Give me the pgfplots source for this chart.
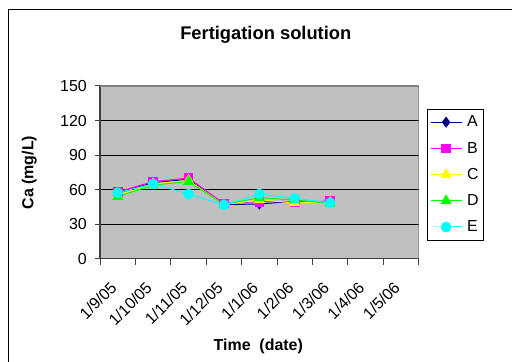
\documentclass[border=0pt]{standalone}
\usepackage{pgfplots}
\pgfplotsset{compat=1.18}
\usepackage{fontspec}
\setmainfont{Liberation Sans}
\definecolor{bgray}{HTML}{C0C0C0}
\definecolor{cA}{HTML}{000080}
\definecolor{cB}{HTML}{FF00FF}
\definecolor{cC}{HTML}{FFFF00}
\definecolor{cD}{HTML}{00FF00}
\definecolor{cE}{HTML}{00FFFF}
\begin{document}
\begin{tikzpicture}
\useasboundingbox (0,0) rectangle (512bp,362bp);
\draw[line width=1bp] (8bp,0) -- (8bp,352.7bp) -- (512bp,352.7bp);
\node[font=\bfseries\fontsize{18.4}{20}\selectfont] at (265.8bp,327bp) {Fertigation solution};
\begin{axis}[
  at={(100bp,103.3bp)}, anchor=south west,
  scale only axis, width=318.7bp, height=172.7bp,
  xmin=-0.5, xmax=8.5, ymin=0, ymax=150,
  axis lines=left, axis line style={-, draw=black!75, line width=1.2bp},
  tick align=outside,
  axis background/.style={fill=bgray},
  ytick={0,30,...,150},
  ymajorgrids, grid style={black, line width=0.8bp},
  major tick length=5bp,
  tick style={black!75, line width=1bp},
  xtick={0,...,8},
  xticklabels={1/9/05,1/10/05,1/11/05,1/12/05,1/1/06,1/2/06,1/3/06,1/4/06,1/5/06},
  xtick style={draw=none},
  extra x ticks={-0.5,0.5,...,8.5},
  extra x tick labels={},
  extra x tick style={xtick style={draw=black!75, line width=1bp}, major tick length=6bp, grid=none},
  /pgf/number format/assume math mode=true,
  tick label style={font=\fontsize{16}{18}\selectfont},
  xticklabel style={inner sep=0pt, anchor=east, yshift=-21bp, xshift=-4bp, rotate=45},
  yticklabel style={inner sep=0pt, xshift=-8bp},
  xlabel={Time\ \ (date)}, ylabel={Ca (mg/L)},
  label style={font=\bfseries\fontsize{16}{18}\selectfont},
  xlabel style={at={(axis description cs:0.4967,-0.5055)}, anchor=center},
  ylabel style={at={(axis description cs:-0.2218,0.499)}, anchor=center, rotate=0},
  legend style={at={(axis description cs:1.025,0.8686)}, anchor=north west,
    draw=black, fill=white, line width=0.8bp, font=\fontsize{16}{18}\selectfont,
    nodes={inner sep=2bp, minimum height=26.2bp}, inner xsep=3bp, inner ysep=0bp, row sep=0bp,
    /tikz/every odd column/.append style={column sep=3bp}},
  legend cell align=left,
  legend image code/.code={\draw[mark repeat=2,mark phase=2] plot coordinates {(0bp,0bp) (15.5bp,0bp) (31bp,0bp)};},
  every axis plot/.append style={line width=1bp},
]
\addplot[cA, mark=diamond*, mark size=4.8bp, mark options={solid, fill=cA}] coordinates {(0,57) (1,66) (2,69) (3,47) (4,47.5) (5,50) (6,49)};
\addplot[cB, mark=square*, mark size=4.3bp, mark options={solid, fill=cB}] coordinates {(0,58) (1,67) (2,70) (3,48) (4,49.5) (5,49.5) (6,50)};
\addplot[cC, mark=triangle*, mark size=5.5bp, mark options={solid, fill=cC}] coordinates {(0,55) (1,65) (2,68) (3,47) (4,51) (5,48.5) (6,49)};
\addplot[cD, mark=triangle*, mark size=5.5bp, mark options={solid, fill=cD}] coordinates {(0,54) (1,64) (2,67) (3,47) (4,53) (5,51) (6,48)};
\addplot[cE, mark=*, mark size=4.8bp, mark options={solid, fill=cE}] coordinates {(0,57.3) (1,65) (2,56.2) (3,46.8) (4,56.2) (5,52.4) (6,48.5)};
\legend{A,B,C,D,E}
\draw[black!50, line width=1.2bp] (rel axis cs:0,1) -- (rel axis cs:1,1) -- (rel axis cs:1,0);
\end{axis}
\end{tikzpicture}
\end{document}
